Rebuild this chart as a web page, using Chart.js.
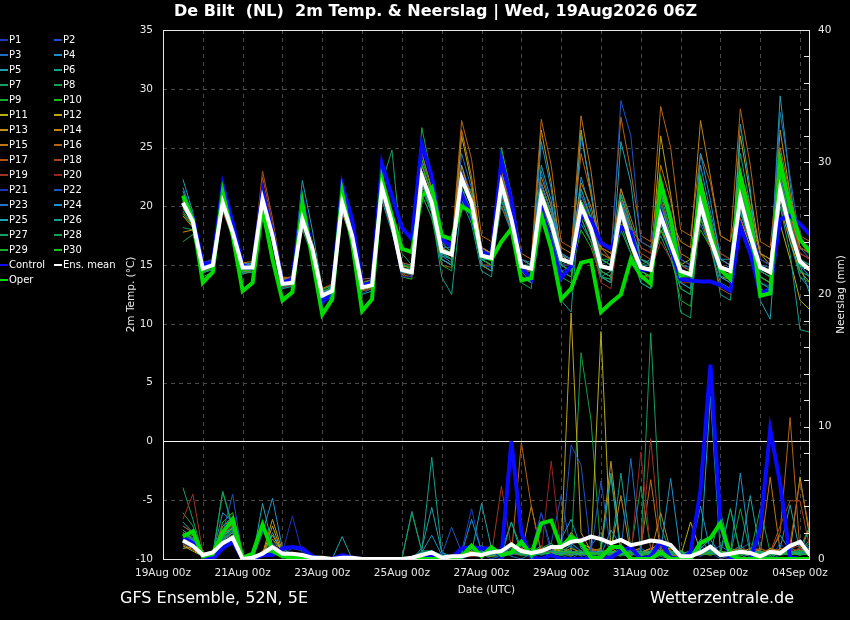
<!DOCTYPE html>
<html>
<head>
<meta charset="utf-8">
<script src="https://cdn.jsdelivr.net/npm/chart.js"></script>
<style>
html,body{margin:0;padding:0;background:#000;}
#wrap{position:relative;width:850px;height:620px;overflow:hidden;font-family:"DejaVu Sans",sans-serif;color:#fff;}
#c{position:absolute;left:0;top:0;}
#title{position:absolute;left:174px;top:1px;font-weight:bold;font-size:16px;white-space:pre;}
#legend{position:absolute;left:0;top:0;font-size:10px;}
.item{position:absolute;line-height:15px;white-space:nowrap;}
.sw{display:inline-block;width:8px;height:2px;vertical-align:middle;margin-right:1px;}
#src{position:absolute;left:120px;top:588px;font-size:16px;}
#site{position:absolute;left:650px;top:588px;font-size:16px;}
</style>
</head>
<body>
<div id="wrap">
<canvas id="c" width="850" height="620"></canvas>
<div id="title">De Bilt  (NL)  2m Temp. &amp; Neerslag | Wed, 19Aug2026 06Z</div>
<div id="legend"></div>
<div id="src">GFS Ensemble, 52N, 5E</div>
<div id="site">Wetterzentrale.de</div>
</div>
<script>
// hours after 19Aug 00z, 6-hourly steps of the 06z run
var hours = [12,18,24,30,36,42,48,54,60,66,72,78,84,90,96,102,108,114,120,126,132,138,144,150,156,162,168,174,180,186,192,198,204,210,216,222,228,234,240,246,252,258,264,270,276,282,288,294,300,306,312,318,324,330,336,342,348,354,360,366,372,378,384,390];
var tickLabels = ['19Aug 00z','21Aug 00z','23Aug 00z','25Aug 00z','27Aug 00z','29Aug 00z','31Aug 00z','02Sep 00z','04Sep 00z'];

var memberColors = ['#1f3cbe','#1f50c0','#1f6ec4','#1f8ec8','#1ea0ac','#14a08a','#12a064','#10a048','#14ac2c','#1cbc1c',
  '#b4b014','#bca414','#c09414','#c08414','#c07414','#b86414','#b05414','#a84420','#a03424','#982424',
  '#1f34be','#1f54c2','#1f72c6','#1f92ca','#1ea4ae','#14a08c','#12a066','#10a04a','#14ae2e','#1cbe1e'];

// 2m temperature (°C)
var tempMean = [20.3,18.7,14.7,15.0, 20.3,17.8,14.8,14.8, 20.6,17.5,13.4,13.5, 18.9,16.4,12.4,12.8, 20.3,17.5,13.1,13.3, 21.6,18.6,14.6,14.4, 22.6,20.3,16.2,15.9, 22.4,20.3,15.8,15.6, 21.9,18.9,14.9,14.7, 20.9,18.6,15.5,15.2, 20.0,18.1,14.9,14.7, 19.7,16.9,14.8,14.6, 19.2,16.8,14.5,14.2, 20.2,17.2,14.8,14.5, 20.7,17.5,14.8,14.4, 21.4,18.0,15.3,14.6];
var tempControl = [20.3,19.1,15.1,15.2, 21.8,18.6,15.0,14.7, 21.2,17.8,13.5,13.8, 20.5,16.1,11.8,12.7, 21.8,18.9,13.3,13.5, 23.6,20.9,18.2,17.2, 25.3,22.6,17.2,16.6, 21.0,19.2,16.1,15.8, 23.9,20.6,14.8,13.8, 19.8,16.9,13.9,14.9, 19.2,18.9,16.9,16.4, 18.2,17.8,14.6,14.6, 19.5,16.5,13.8,13.7, 13.6,13.6,13.3,12.8, 18.3,16.0,12.6,13.0, 18.9,19.2,18.5,17.6];
var tempOper = [20.9,18.9,13.5,14.4, 21.2,17.5,12.8,13.5, 19.8,15.5,12.0,12.7, 20.3,15.5,10.8,12.1, 21.2,16.9,11.1,12.1, 22.3,19.2,16.4,16.1, 20.9,21.6,17.5,17.2, 20.0,19.5,15.8,15.5, 17.0,18.1,13.7,13.9, 19.3,16.4,12.1,13.0, 15.2,15.4,11.0,11.8, 12.5,15.5,14.1,13.4, 22.0,18.9,14.1,14.4, 21.9,18.0,14.6,13.8, 22.6,18.9,12.4,12.6, 23.8,20.0,17.2,16.1];
var tempMembers = [
  [20.0,18.5,14.9,15.2, 20.8,18.0,14.6,14.5, 20.1,17.0,13.0,13.2, 18.5,16.0,12.0,12.6, 21.0,18.0,13.5,13.0, 22.5,19.5,15.0,14.0, 21.0,19.0,15.5,15.0, 23.5,21.0,16.5,15.8, 20.5,18.0,14.0,13.6, 19.5,17.5,14.5,14.8, 21.5,19.0,15.5,15.0, 18.0,16.0,14.0,13.5, 20.5,17.5,15.0,14.6, 22.0,18.5,15.5,15.0, 19.0,16.5,13.5,13.2, 23.0,19.0,16.0,15.5],
  [21.0,19.2,14.5,14.8, 20.0,17.5,15.0,15.2, 21.2,18.0,13.8,13.6, 19.5,16.8,12.8,13.0, 19.8,17.0,12.6,13.0, 21.0,18.0,14.2,14.6, 23.8,21.0,16.8,16.2, 21.5,19.5,15.0,14.8, 22.8,19.5,15.5,15.0, 21.8,19.5,16.0,15.5, 19.0,17.0,14.0,13.8, 21.0,18.0,15.5,15.0, 18.0,16.0,13.5,13.0, 19.5,17.0,14.0,14.2, 22.0,18.5,15.5,15.0, 20.0,17.5,15.0,14.0],
  [20.6,18.9,14.3,14.7, 19.8,17.4,14.2,14.6, 20.9,17.8,13.2,13.8, 19.0,16.2,12.2,12.4, 20.6,17.8,13.0,13.6, 20.8,18.2,14.0,14.8, 22.0,19.8,16.5,16.5, 24.5,21.5,16.0,15.5, 21.0,18.5,15.5,15.2, 23.0,20.0,15.0,14.5, 20.5,18.5,15.5,15.0, 19.0,16.5,14.5,14.0, 21.5,18.5,14.0,13.5, 18.5,16.5,14.5,15.0, 21.0,18.0,15.0,14.8, 24.5,20.0,16.5,15.5],
  [21.3,19.0,15.0,15.4, 20.5,18.2,15.2,15.0, 20.0,17.2,13.6,13.9, 18.2,15.8,12.6,13.2, 19.5,17.0,13.5,13.8, 22.0,19.0,15.2,14.5, 23.0,20.5,15.8,15.2, 22.0,20.0,16.2,16.0, 20.0,17.8,14.5,14.0, 21.5,19.0,15.8,15.5, 22.5,19.5,15.0,14.5, 20.5,17.5,15.5,15.2, 19.5,17.0,15.0,14.8, 23.5,19.5,16.0,15.5, 19.5,17.0,14.5,14.0, 20.5,17.0,14.0,13.0],
  [22.3,19.5,14.8,15.0, 20.0,17.6,14.5,14.7, 21.5,18.0,13.8,14.0, 22.2,18.0,13.0,13.2, 19.8,17.2,13.4,13.5, 20.5,17.8,14.5,14.2, 21.5,19.5,15.5,15.0, 23.0,20.5,15.5,15.5, 22.0,19.0,14.0,13.5, 19.5,17.5,15.0,15.5, 21.0,19.0,15.0,15.5, 21.5,18.5,14.5,14.0, 20.0,17.5,14.0,14.0, 21.0,18.0,15.5,15.5, 23.0,19.5,14.5,14.0, 29.4,22.0,15.0,12.5],
  [19.6,18.4,14.6,14.9, 19.9,17.6,14.9,15.0, 20.8,17.6,13.7,13.2, 18.8,16.6,12.3,12.6, 20.0,17.0,12.5,12.8, 21.2,18.5,15.0,15.0, 24.5,21.5,16.0,15.5, 21.0,19.0,15.5,15.5, 21.5,18.5,15.0,15.0, 20.0,18.0,14.5,14.0, 18.5,17.0,14.0,14.5, 20.0,17.5,15.0,15.0, 17.5,15.5,13.0,12.5, 19.0,16.5,13.5,13.0, 24.5,20.0,16.0,15.5, 22.5,19.0,16.5,16.0],
  [18.2,18.0,14.8,15.1, 20.6,18.2,14.4,14.4, 20.3,17.3,13.1,13.4, 19.2,16.6,12.5,12.9, 20.8,18.0,13.4,13.2, 22.0,24.8,16.0,15.0, 22.0,20.0,16.5,16.0, 21.0,21.5,16.5,16.0, 23.0,19.5,15.0,14.5, 20.5,18.5,16.0,15.5, 19.5,17.5,14.5,14.0, 18.5,17.0,15.0,15.5, 20.5,17.5,11.0,10.5, 21.5,18.0,14.5,14.0, 20.0,17.0,13.5,13.0, 21.5,18.5,15.5,15.0],
  [17.0,17.6,14.5,14.6, 21.0,18.5,15.0,14.6, 20.5,17.5,13.5,13.8, 18.0,15.8,12.0,12.2, 19.5,17.2,12.8,13.0, 21.0,19.0,14.5,14.6, 23.0,21.5,17.0,16.5, 22.0,20.5,15.0,15.0, 20.0,18.0,13.5,13.0, 21.0,19.5,16.0,15.5, 20.5,19.0,15.5,15.0, 18.5,16.0,13.5,13.0, 19.5,17.0,14.5,14.0, 21.0,18.5,16.0,15.5, 19.5,17.5,15.5,15.0, 20.0,17.5,14.0,13.5],
  [19.8,18.6,14.4,14.8, 20.2,17.5,14.4,14.6, 21.0,17.9,13.6,13.6, 19.8,17.0,12.9,13.3, 20.2,17.4,13.0,13.2, 21.3,18.4,14.8,14.4, 26.7,22.5,17.0,16.0, 22.5,20.5,15.5,15.0, 21.0,18.0,14.0,13.5, 19.0,17.0,14.0,13.5, 20.0,18.0,15.5,15.5, 20.5,17.0,15.0,14.5, 18.5,16.0,14.0,14.0, 20.5,17.0,14.0,13.5, 21.5,18.0,14.0,13.5, 22.0,18.5,15.0,14.5],
  [20.8,18.8,14.0,14.4, 20.4,17.9,14.7,14.9, 20.2,17.2,13.2,13.3, 19.0,16.4,12.2,12.6, 20.4,17.6,13.2,13.4, 22.5,19.0,14.0,13.8, 24.0,21.5,16.5,16.0, 20.5,19.0,15.5,15.0, 25.0,21.0,15.0,14.5, 20.0,18.0,15.0,14.5, 18.0,16.5,14.0,13.8, 19.0,16.5,14.0,14.2, 22.0,18.5,15.0,14.5, 18.0,16.5,14.5,14.0, 22.0,18.0,15.0,14.5, 20.5,17.5,15.5,15.0],
  [20.1,18.4,14.9,15.3, 19.7,17.4,15.1,15.0, 20.4,17.4,13.3,13.4, 18.6,16.2,12.5,13.0, 20.1,17.2,12.9,13.1, 21.0,18.0,14.4,14.2, 22.5,20.0,15.5,15.0, 26.0,22.0,16.5,16.0, 21.5,19.0,15.5,15.0, 22.0,19.5,15.0,14.5, 26.5,21.0,16.0,15.5, 20.0,17.5,14.0,13.5, 19.0,16.5,15.0,15.5, 22.5,19.0,14.5,14.0, 19.0,16.5,13.0,12.5, 18.5,15.5,12.0,11.2],
  [19.2,18.2,15.1,15.3, 20.0,17.8,14.6,14.8, 20.6,17.7,13.5,13.7, 18.4,16.0,12.1,12.5, 19.6,17.0,13.0,13.4, 21.4,18.8,14.8,14.6, 22.0,19.5,16.0,15.5, 23.5,20.5,15.0,14.5, 22.5,19.5,14.5,14.5, 20.5,18.5,15.5,15.0, 20.5,18.0,14.5,14.0, 21.0,18.0,15.5,15.0, 26.0,21.0,15.5,15.0, 20.0,17.5,14.5,14.2, 26.0,21.0,16.0,15.0, 20.0,17.0,14.5,13.5],
  [17.8,18.0,14.6,15.0, 20.3,17.7,14.5,14.5, 20.7,17.6,13.4,13.4, 19.3,16.7,12.7,13.0, 20.3,17.6,13.2,13.6, 21.8,18.8,14.6,14.5, 23.0,20.5,15.5,15.0, 22.5,20.0,16.0,15.5, 22.0,19.0,15.5,15.0, 26.5,22.0,16.0,15.0, 19.5,18.0,14.5,14.0, 19.0,16.5,14.0,14.0, 18.0,16.5,14.5,14.0, 20.5,17.5,14.0,13.8, 21.5,18.5,15.0,14.5, 26.5,21.0,16.5,16.0],
  [20.5,18.8,14.8,15.1, 20.6,18.1,15.2,15.3, 21.0,17.9,13.9,14.0, 19.4,16.9,12.7,13.0, 20.7,17.8,13.3,13.4, 21.9,18.9,14.9,14.8, 22.5,20.5,16.5,16.0, 23.0,21.0,16.5,16.0, 23.5,20.5,14.5,13.5, 21.0,19.0,16.0,15.5, 22.0,20.0,16.5,16.0, 20.5,18.0,17.0,16.5, 21.0,19.0,17.0,16.5, 27.3,22.5,17.5,17.0, 21.5,19.0,16.0,15.5, 22.0,19.5,16.5,16.0],
  [20.9,19.1,14.4,14.6, 20.7,18.0,14.8,14.7, 21.7,18.4,13.7,13.8, 19.0,16.4,12.3,12.7, 19.9,17.3,13.0,13.2, 21.5,18.5,14.5,14.2, 23.5,21.0,16.5,16.0, 26.5,22.5,16.5,16.0, 23.0,20.0,15.5,15.0, 22.5,20.0,16.5,16.0, 27.7,23.0,16.5,15.5, 21.5,19.0,16.5,16.0, 23.5,20.5,16.0,15.5, 21.5,19.0,15.5,15.0, 23.0,20.0,16.0,15.5, 23.0,19.5,16.0,15.5],
  [20.2,18.7,15.0,15.4, 20.8,18.3,15.1,15.0, 21.4,18.2,13.8,13.9, 19.6,17.0,13.0,13.4, 20.9,18.1,13.8,13.9, 22.4,19.4,15.2,15.0, 24.5,21.5,17.0,16.5, 27.3,24.0,17.5,17.0, 24.0,21.0,16.0,15.5, 27.4,23.5,17.0,16.5, 24.5,21.0,16.5,16.0, 27.6,23.0,17.5,17.0, 28.5,25.0,18.0,17.5, 24.5,22.0,17.5,17.0, 28.3,23.5,17.0,16.5, 25.0,21.0,17.5,17.0],
  [19.9,18.6,14.9,15.1, 21.0,18.4,15.0,15.0, 23.0,19.0,14.0,13.9, 19.1,16.6,12.4,12.6, 20.2,17.4,13.1,13.5, 21.2,18.3,14.2,14.0, 22.0,19.5,15.0,14.8, 21.5,19.5,15.0,14.5, 21.0,18.5,14.0,13.5, 20.5,18.0,15.0,15.0, 21.0,19.0,16.0,15.5, 19.5,17.0,15.0,14.5, 20.0,17.5,14.0,13.5, 19.0,16.5,13.0,12.5, 20.5,17.5,14.0,13.5, 23.5,20.0,17.0,16.5],
  [20.7,19.0,14.7,15.0, 19.6,17.3,14.3,14.4, 22.5,18.5,13.3,13.6, 18.7,16.1,12.6,12.9, 20.5,17.6,13.6,13.7, 21.6,18.7,14.4,14.3, 21.5,19.5,16.0,15.5, 22.0,20.0,16.0,16.0, 20.0,18.0,14.5,14.5, 21.5,19.0,15.5,15.0, 19.5,17.5,14.5,14.0, 20.0,18.0,16.0,15.5, 20.5,18.0,15.0,14.5, 21.0,18.5,16.0,15.5, 19.0,17.0,15.5,15.0, 21.0,18.5,16.5,16.0],
  [20.4,18.8,14.5,14.9, 20.1,17.7,14.6,14.6, 20.5,17.5,13.1,13.3, 18.9,16.3,12.2,12.4, 19.8,17.1,12.8,13.0, 21.0,18.1,14.3,14.2, 22.5,20.5,16.5,16.0, 21.5,19.5,15.0,15.0, 22.5,19.5,15.5,15.0, 20.0,18.5,16.0,15.5, 19.0,17.0,13.5,13.0, 19.0,17.0,15.0,14.5, 17.0,15.5,13.5,13.5, 20.0,17.0,14.5,14.0, 20.5,17.5,14.5,14.0, 22.0,19.0,16.0,15.5],
  [19.5,18.3,14.8,15.0, 20.5,18.0,15.0,14.8, 20.2,17.2,13.4,13.6, 18.3,15.9,12.5,12.8, 20.6,17.7,13.3,13.4, 21.4,18.4,14.7,14.5, 23.0,20.5,16.0,15.5, 22.0,20.0,16.0,15.5, 21.0,18.0,14.5,14.0, 20.5,18.5,15.0,14.5, 20.0,17.5,14.0,13.5, 20.5,18.5,16.5,16.0, 19.5,17.0,14.0,13.5, 20.5,18.0,16.0,15.5, 21.0,18.5,15.0,14.5, 20.5,18.0,16.0,15.5],
  [20.0,18.7,14.6,14.9, 20.0,17.6,14.7,14.9, 20.4,17.4,13.3,13.5, 18.6,16.2,12.1,12.4, 22.3,19.0,13.5,13.4, 21.0,18.2,14.0,14.0, 22.0,20.0,15.5,15.0, 23.0,20.5,16.0,15.5, 21.5,19.0,15.0,14.5, 19.5,17.5,15.0,15.0, 21.0,18.5,15.0,14.5, 20.0,17.5,14.5,14.0, 22.5,19.5,15.5,15.0, 19.5,17.0,14.0,13.5, 21.0,18.5,15.5,15.0, 20.0,17.5,15.5,15.0],
  [20.6,18.9,15.2,15.5, 20.0,17.6,14.9,15.1, 20.8,17.7,13.6,13.7, 19.1,16.5,12.7,13.0, 20.0,17.3,13.0,13.2, 21.7,18.7,14.6,14.4, 23.0,20.5,16.0,15.5, 22.5,20.0,15.5,15.0, 21.5,19.0,15.5,15.0, 21.0,19.0,16.0,15.5, 20.5,18.5,15.5,15.0, 29.0,26.0,17.0,16.5, 22.0,19.5,15.5,15.0, 20.5,18.0,15.0,14.5, 20.0,17.5,15.0,14.5, 22.5,19.5,17.0,16.5],
  [20.3,18.6,14.4,14.6, 20.4,17.9,14.6,14.6, 20.2,17.3,13.2,13.4, 18.8,16.3,12.3,12.6, 20.6,17.8,13.3,13.6, 21.7,18.8,14.7,14.5, 22.5,20.0,16.0,15.5, 22.0,20.0,15.5,15.5, 21.0,18.5,14.5,14.0, 22.0,19.5,16.0,15.5, 20.0,18.0,15.0,14.5, 20.5,18.0,15.0,14.5, 19.5,17.0,14.5,14.0, 21.5,18.5,15.0,14.5, 20.5,17.5,14.5,14.0, 28.0,22.5,17.0,16.5],
  [21.6,19.2,15.0,15.2, 20.6,18.1,15.0,15.2, 20.8,17.6,13.3,13.4, 18.5,16.1,12.4,12.8, 20.2,17.4,13.1,13.3, 21.5,18.5,14.5,14.3, 22.0,19.8,15.8,15.5, 21.5,19.5,15.5,15.0, 20.5,18.0,14.5,14.0, 25.5,21.5,15.5,15.0, 26.0,21.5,15.5,15.0, 19.0,17.0,14.5,14.0, 20.0,17.5,14.5,14.0, 24.5,20.5,15.5,15.0, 20.0,17.0,14.0,13.5, 21.0,18.0,15.0,14.0],
  [20.7,18.9,14.9,15.2, 20.5,18.0,14.7,14.8, 20.6,17.6,13.5,13.6, 19.1,16.6,12.6,13.0, 20.0,17.3,13.2,13.4, 21.7,18.7,14.6,14.5, 22.0,19.5,15.5,15.0, 21.0,19.0,15.0,14.5, 22.0,19.0,14.5,14.0, 23.5,20.5,15.0,14.5, 20.5,18.0,14.0,13.5, 25.5,22.0,15.0,14.5, 19.0,16.5,13.5,13.0, 21.0,18.0,14.0,13.5, 27.0,21.5,12.0,10.4, 21.5,18.0,14.5,14.0],
  [20.0,18.5,14.7,15.0, 19.8,17.4,14.3,14.4, 20.0,17.0,13.0,13.2, 18.4,16.0,12.0,12.3, 20.4,17.5,13.1,13.3, 21.4,18.4,14.4,14.2, 22.0,19.5,14.0,12.5, 20.5,18.5,14.5,14.0, 21.0,18.5,14.0,13.5, 19.5,17.0,12.0,11.0, 21.5,19.0,14.0,13.5, 20.5,17.5,13.5,13.0, 21.0,18.0,14.5,14.0, 20.0,17.0,12.5,12.0, 19.5,17.0,13.5,13.0, 20.0,16.0,9.5,9.3],
  [20.5,18.8,14.6,14.9, 20.1,17.8,14.8,14.8, 20.5,17.5,13.5,13.4, 18.7,16.3,12.4,12.7, 20.1,17.4,13.1,13.3, 21.5,18.5,14.5,14.3, 22.5,20.0,16.0,15.5, 21.5,19.5,15.5,15.0, 24.5,21.0,15.5,15.0, 20.5,18.5,15.5,15.0, 19.0,17.0,14.5,14.0, 21.0,18.5,15.5,15.0, 18.5,16.5,14.0,13.5, 19.5,17.0,14.5,14.0, 20.0,17.5,14.5,14.0, 22.5,19.0,15.5,15.0],
  [20.2,18.6,14.8,15.1, 20.3,17.9,14.9,15.0, 20.7,17.6,13.6,13.8, 18.9,16.4,12.6,12.9, 20.3,17.5,13.4,13.6, 21.8,18.8,14.8,14.6, 21.5,19.5,16.0,15.5, 22.5,20.5,16.0,15.5, 20.5,18.5,14.5,14.0, 20.0,18.0,15.0,14.5, 19.5,17.5,14.5,14.0, 18.0,16.0,14.0,13.5, 19.0,16.5,13.0,12.5, 22.0,19.0,15.0,14.5, 21.5,18.5,14.5,14.0, 21.0,18.0,14.5,14.0],
  [19.4,18.3,14.5,14.7, 19.9,17.6,14.5,14.6, 20.3,17.4,13.3,13.5, 18.5,16.1,12.2,12.5, 20.4,17.6,13.2,13.4, 21.6,18.6,14.6,14.4, 21.0,19.0,15.0,14.5, 22.0,20.0,15.5,15.0, 21.5,19.0,15.0,14.5, 19.0,17.5,14.5,14.0, 20.5,18.5,15.5,15.0, 19.5,17.0,14.5,14.0, 18.0,16.0,12.0,11.5, 19.0,17.0,14.5,14.0, 21.0,18.0,15.0,14.5, 22.0,19.0,15.0,14.5],
  [20.4,18.7,14.4,14.7, 20.6,18.2,15.0,15.0, 20.9,17.8,13.7,13.8, 19.2,16.7,12.8,13.1, 20.7,17.9,13.5,13.7, 22.0,19.0,15.0,14.8, 23.5,21.0,16.5,16.0, 22.0,20.0,16.0,15.5, 22.0,19.5,15.0,14.5, 21.5,19.0,15.5,15.0, 20.5,18.5,15.0,14.5, 19.5,17.0,14.5,14.0, 20.0,17.5,14.5,14.0, 20.5,17.5,14.5,14.0, 20.5,17.5,14.0,13.5, 21.0,18.0,15.0,14.5]
];

// precipitation per 6h (mm), right axis
var rainMean = [1.4,1.0,0.3,0.5,1.2,1.6,0,0.1, 0.4,0.9,0.4,0.4,0.3,0.1,0.1,0, 0.1,0.1,0,0,0,0,0,0.1, 0.3,0.5,0.1,0.2,0.2,0.4,0.3,0.5, 0.6,1.1,0.6,0.45,0.6,0.9,0.9,1.3, 1.4,1.7,1.5,1.2,1.45,1.05,1.2,1.4, 1.3,1.06,0.2,0.2,0.5,0.93,0.3,0.4, 0.55,0.45,0.2,0.55,0.45,1.0,1.3,0.3];
var rainControl = [1.6,1.2,0.2,0,0.8,1.3,0,0, 0.3,0.3,0.8,0.9,0.8,0.2,0,0, 0.3,0.1,0,0,0,0,0,0, 0,0.2,0,0.1,0.8,0.9,0.8,0.8, 0.2,8.9,2.0,0.1,0,0.3,0,0, 0,0,0,0.1,0.6,0.9,0,0.2, 1.3,0.1,0,0.5,5.2,14.7,2.7,0.1, 0,0,2.2,9.8,5.7,0.1,0,0];
var rainOper = [1.7,2.1,0.2,0.4,2.0,3.0,0.1,0.4, 2.6,0.6,0.2,0.1,0.1,0.1,0,0, 0,0,0,0,0,0,0,0, 0,0,0,0,0.2,1.0,0.2,0.9, 0.3,0.5,1.3,0.3,2.7,2.9,0.9,1.7, 1.2,0.1,0.1,0.9,0.9,0,0,0, 0.5,0,0,0,1.2,1.6,2.7,0.3, 0,0,0,0,0,0,0,0];
var rainMembers = [
  [1.2,0.8,0.2,0.3,1.5,2.0,0,0, 0.3,0.8,0.5,0.2,0,0,0,0, 0,0,0,0,0,0,0,0, 0.2,0.5,0,0,0.6,3.8,0.5,0.2, 0,0.6,1.5,0.3,0,0.5,0.8,1.2, 0.4,0,0.3,1.0,0.5,0,0,0.6, 1.5,0.3,0,0,0.8,1.5,0.2,0, 0,0.5,0,0,1.2,0.3,0.8,0.5],
  [2.0,1.5,0.3,0.5,1.8,2.5,0.1,0, 0.2,0.5,0.3,0.8,0.6,0,0,0, 0,0,0,0,0,0,0,0, 0,0.3,0,0,0.2,0.5,0.4,0, 0.3,0.5,0.8,0.2,0.5,1.2,4.8,0.6, 0.2,0.4,0,0.3,0.8,0.5,0,0.3, 0.6,0,0.2,0.4,1.0,0.5,0,0.3, 0.8,1.2,0.5,0,0.3,0.6,1.5,0.8],
  [0.8,1.0,0.1,0.2,2.5,3.2,0,0, 0.5,1.2,0.4,0.3,0.2,0.1,0,0, 0,0,0,0,0,0,0,0, 0,0.2,0.1,0,0,0.3,0.2,0.5, 0.6,0.2,0,0.4,3.5,0.8,0.3,0, 0.5,1.0,2.0,0.6,0.3,0.2,0.8,0.4, 0,0.3,0,0.5,0.2,0.6,1.0,0.5, 0.3,0,0.2,0,0.6,0.9,0.4,1.0],
  [1.5,1.2,0.2,0.1,1.0,1.8,0,0, 0.3,2.0,0.5,0.2,0,0,0,0, 0,0,0,0,0,0,0,0, 0.5,1.8,0.3,0,0.2,0.8,1.0,0.6, 0.2,1.0,0.5,0.3,0.6,0.2,1.5,3.0, 0.8,0.4,0.3,2.2,1.0,0.5,0.2,0.8, 0.5,1.2,0.2,0,0.8,1.5,0.3,0.5, 1.0,0.4,0,0.5,1.8,0.6,0.3,0.5],
  [2.5,2.0,0.3,0.4,1.5,2.2,0.1,0, 0.5,1.5,0.6,0.3,0.2,0,0,0, 0,0,0,0,0,0,0,0, 0.8,3.9,0.5,0.2,0.3,0.5,4.2,0.8, 0.4,0.6,0.3,0.5,1.0,0.4,0.3,1.2, 0.6,0.2,0.8,6.2,0.5,0.3,0.5,0.8, 0.3,0.5,0,0.2,1.5,0.5,0.3,0.6, 0.4,0.2,0.5,0.3,0.8,4.1,0.5,0.3],
  [1.8,1.0,0.2,0.3,2.0,2.8,0,0, 0.2,0.4,0.8,0.3,0.1,0,0,0, 0,0,0,0,0,0,0,0, 0.6,7.7,0.5,0,0.2,0.3,0.5,0.4, 0.2,2.8,0.8,0.2,0.5,0.3,0.6,1.0, 0.3,0.6,0.4,0.5,6.5,0.8,0.3,0.5, 0.2,0.4,0.6,0.3,0.5,1.0,0.2,0.4, 0.8,0.3,0,0.4,0.6,0.3,0.5,1.5],
  [5.4,3.0,0.4,0.6,1.2,1.5,0.1,0, 0.4,0.6,0.3,0.1,0,0,0,0, 0,0,0,0,0,0,0,0, 0.5,0.3,0,0,0.2,0.4,0.6,0.3, 0.5,0.8,0.3,0.2,0.4,0.6,0.8,0.5, 0.6,0.3,0.5,0.2,0.4,0.6,0.8,17.1, 2.5,0.4,0.2,0.5,0.3,0.6,0.4,3.8, 0.5,0.3,0.2,0.6,0.4,0.3,0.5,0.4],
  [3.5,2.5,0.5,0.2,1.8,2.2,0,0, 0.3,0.5,0.2,0.2,0,0,0,0, 0,0,0,0,0,0,0,0, 0.4,0.6,0.2,0,0.3,0.2,0.5,0.3, 0.2,0.4,0.3,0.6,0.5,1.0,0.8,0.6, 15.6,10.5,0.5,0.3,0.4,0.6,5.5,0.8, 0.3,0.2,0.4,0.3,0.5,0.4,0.6,0.3, 3.8,0.5,0.3,0.2,0.4,0.6,0.5,0.3],
  [2.0,1.5,0.2,0.4,5.1,2.5,0,0, 0.2,0.8,0.4,0.1,0,0,0,0, 0,0,0,0,0,0,0,0, 0.3,0.5,0.2,0.1,0.4,0.6,0.3,0.2, 0.5,0.4,0.6,0.8,0.3,0.5,0.4,0.2, 0.6,0.4,0.3,0.5,0.2,0.8,0.4,0.6, 0.3,0.5,0.2,0.4,0.6,0.3,0.5,0.4, 0.2,0.6,0.3,0.5,0.4,0.8,0.6,1.2],
  [1.5,1.8,0.3,0.2,2.8,3.5,0.1,0, 0.6,1.0,0.3,0.2,0.1,0,0,0, 0,0,0,0,0,0,0,0, 0.2,0.4,0.1,0,0.2,0.5,0.4,0.3, 0.4,0.3,0.5,0.6,0.8,1.2,0.5,0.3, 0.4,0.6,0.5,0.3,0.6,0.4,0.2,0.5, 0.8,0.3,0.2,0.5,0.4,0.6,0.3,0.8, 0.5,0.3,0.6,0.4,0.3,0.5,0.8,0.6],
  [1.0,0.6,0.2,0.2,1.2,1.5,0,0, 0.4,1.8,0.5,0.3,0.1,0,0,0, 0,0,0,0,0,0,0,0, 0,0.2,0.3,0,0.4,0.6,0.3,0.2, 0.5,0.6,0.4,0.3,0.5,0.8,0.6,2.0, 1.2,0.8,17.2,0.5,0.6,0.3,0.5,0.8, 1.0,0.4,0.2,2.8,0.6,0.5,0.3,0.5, 0.4,0.6,0.3,0.8,0.5,0.6,6.2,1.5],
  [1.6,1.2,0.2,0.3,2.2,2.6,0,0, 0.3,2.5,0.4,0.2,0,0,0,0, 0,0,0,0,0,0,0,0, 0.2,0.3,0,0,0.3,0.5,0.6,0.4, 0.3,0.5,0.8,0.4,0.6,0.5,0.8,18.6, 2.0,0.6,0.5,0.8,0.4,0.6,0.3,0.5, 0.6,0.8,0.3,0.5,0.4,0.6,0.5,0.3, 0.5,0.8,0.6,0.4,0.5,0.3,0.6,0.8],
  [0.8,0.9,0.2,0.3,1.5,2.0,0,0, 0.4,3.0,0.6,0.2,0.1,0,0,0, 0,0,0,0,0,0,0,0, 0.3,0.2,0,0,0.2,0.4,0.3,0.5, 0.6,0.4,0.5,0.3,0.6,0.4,0.5,0.8, 0.5,0.6,0.8,7.4,0.6,0.5,0.4,0.8, 0.6,0.3,0.5,0.4,0.6,0.5,0.3,0.6, 0.4,0.5,0.3,0.8,0.6,0.4,0.5,0.6],
  [1.4,1.1,0.3,0.2,1.6,2.4,0,0, 0.2,0.6,0.3,0.3,0,0,0,0, 0,0,0,0,0,0,0,0, 0.2,0.4,0.2,0,0.3,0.5,0.4,0.3, 0.4,0.5,0.3,4.0,0.5,0.6,0.4,0.3, 0.5,0.8,0.4,0.6,4.8,0.3,0.5,0.4, 3.5,0.6,0.4,0.3,0.5,0.4,0.6,0.3, 0.4,0.6,0.5,0.3,0.8,0.6,0.4,0.5],
  [1.1,0.7,0.2,0.1,2.0,2.2,0.1,0, 0.5,1.0,0.2,0.4,0,0,0,0, 0,0,0,0,0,0,0,0, 0,0.2,0,0.1,0.3,0.4,0.2,0.5, 0.4,0.6,0.5,0.4,0.8,0.5,0.4,0.6, 0.3,0.8,0.6,0.4,0.5,0.6,0.8,6.0, 0.5,0.4,0.3,0.6,0.5,0.4,0.3,0.6, 0.8,0.5,0.4,6.2,0.6,0.5,0.8,2.5],
  [1.3,1.0,0.2,0.4,2.5,3.0,0,0, 0.6,1.5,0.3,0.2,0.1,0,0,0, 0,0,0,0,0,0,0,0, 0.3,0.2,0,0,0.2,0.3,0.5,0.4, 0.5,0.3,8.8,4.0,0.5,0.6,0.4,0.5, 0.6,0.4,0.5,0.3,0.6,0.8,0.5,0.4, 0.6,0.5,0.3,0.4,0.6,0.5,0.3,0.4, 0.5,0.6,0.8,0.4,2.0,10.7,0.6,0.4],
  [1.8,1.4,0.3,0.2,1.8,2.6,0.1,0, 0.4,0.8,0.5,0.3,0,0,0,0, 0,0,0,0,0,0,0,0, 0.2,0.3,0.1,0,0.4,0.3,0.5,0.2, 0.3,0.5,0.4,0.6,0.5,0.3,0.6,0.4, 0.5,0.8,0.4,0.6,0.5,0.3,0.4,0.6, 0.5,0.3,0.2,0.5,0.4,0.6,0.5,0.3, 0.6,0.4,0.8,0.5,0.6,1.2,5.9,2.0],
  [2.5,2.0,0.3,0.2,1.5,1.8,0,0, 0.3,0.6,0.4,0.2,0,0,0,0, 0,0,0,0,0,0,0,0, 0.1,0.2,0,0,0.3,0.2,0.4,0.3, 0.5,0.4,0.3,0.5,0.6,0.4,0.5,0.3, 0.6,0.4,0.5,0.3,0.4,0.6,0.5,0.3, 0.4,0.6,0.3,0.5,0.4,0.3,0.6,0.5, 0.4,0.3,0.6,0.5,2.5,4.4,4.4,0.8],
  [3.0,4.9,0.5,0.3,1.2,1.5,0.1,0, 0.2,0.5,0.3,0.2,0,0,0,0, 0,0,0,0,0,0,0,0, 0.2,0.3,0,0,0.2,0.4,0.5,0.3, 5.5,0.8,0.4,0.3,0.5,0.6,0.4,0.5, 0.3,0.6,0.5,0.4,0.6,0.8,0.5,9.1, 0.8,0.4,0.3,0.5,0.6,0.4,0.3,0.5, 0.6,0.4,0.5,0.3,0.6,0.8,1.0,0.5],
  [2.2,1.6,0.2,0.3,1.4,2.0,0,0, 0.3,0.6,0.4,0.2,0.1,0,0,0, 0,0,0,0,0,0,0,0, 0.1,0.2,0,0,0.3,0.2,0.3,0.4, 0.5,0.6,0.3,0.5,0.4,7.4,0.6,0.4, 0.3,0.5,0.4,0.6,0.5,0.3,8.1,0.6, 0.5,0.4,0.3,0.6,0.5,0.4,0.6,0.3, 0.5,0.4,0.6,0.5,0.4,0.6,0.8,0.5],
  [1.5,1.2,0.2,0.3,1.6,2.2,0,0, 0.3,0.6,0.5,3.25,0.4,0,0,0, 0,0,0,0,0,0,0,0, 0.2,0.3,0.1,0,0.2,0.4,0.3,0.5, 0.4,0.3,0.5,0.6,3.5,0.4,0.5,0.3, 0.6,0.5,0.4,0.3,0.5,0.6,0.4,0.3, 0.6,0.5,0.3,0.4,0.5,0.6,0.3,0.4, 0.5,0.6,0.3,0.4,0.5,0.6,0.4,0.5],
  [1.2,1.6,0.3,0.2,2.0,4.9,0.1,0, 0.2,0.5,0.4,0.3,0,0,0,0, 0,0,0,0,0,0,0,0, 0.3,0.4,0.3,2.4,0.5,0.3,0.4,0.3, 0.5,0.6,0.4,0.5,0.3,0.6,0.4,8.6, 7.1,0.5,5.9,0.6,0.4,0.5,0.3,0.6, 0.4,0.5,0.3,0.6,0.5,0.4,0.3,0.5, 0.6,0.4,0.5,0.3,0.6,0.4,0.5,0.6],
  [1.9,1.3,0.2,0.3,1.5,2.0,0,0, 0.4,0.8,0.3,0.2,0,0,0,0, 0,0,0,0,0,0,0,0, 0.2,0.3,0,0,0.3,0.5,0.6,0.4, 0.3,0.5,0.6,0.4,0.5,0.3,0.6,0.5, 0.4,0.6,0.5,0.3,0.6,7.6,0.5,0.4, 0.6,0.3,0.5,0.4,0.6,0.5,0.3,0.6, 0.4,0.5,0.6,0.3,0.5,0.6,0.4,0.8],
  [2.2,1.5,0.3,0.4,3.5,2.8,0.1,0, 2.0,4.6,0.8,0.3,0.2,0,0,0, 0,0,0,0,0,0,0,3.6, 0.6,0.6,0.3,0.2,0.4,3.0,0.6,0.5, 0.4,0.6,0.5,0.3,0.6,0.4,0.5,0.6, 0.3,0.5,0.4,0.6,0.5,0.4,0.3,0.6, 0.6,6.1,0.3,0.5,4.0,0.6,0.5,0.4, 6.5,0.6,0.4,0.5,0.6,0.4,0.5,0.6],
  [2.8,2.0,0.3,0.2,1.8,2.4,0,0, 4.2,1.0,0.4,0.3,0.1,0,0,0, 1.7,0,0,0,0,0,0,0, 0.3,0.2,0,0,0.2,0.4,0.5,0.3, 0.4,0.5,0.3,0.6,0.5,0.4,0.6,0.3, 0.5,0.4,0.6,0.5,0.3,0.6,0.4,0.5, 0.3,0.6,0.4,0.5,0.6,12.3,0.4,0.6, 0.5,4.8,0.5,0.4,0.6,0.5,0.3,0.5],
  [1.6,1.2,0.2,0.3,1.4,2.0,0,0, 0.3,0.8,0.5,0.2,0,0,0,0, 0,0,0,0,0,0,0,0, 0.4,0.6,0.3,0,0.2,0.3,0.4,0.5, 0.6,2.8,0.4,0.5,0.3,0.6,0.4,0.5, 0.6,0.3,0.5,6.5,0.4,0.5,0.6,0.3, 0.5,0.4,0.6,0.3,0.5,0.4,3.6,0.5, 0.4,0.6,0.5,0.3,0.6,0.5,0.4,2.5],
  [2.0,1.4,0.3,0.2,5.1,2.2,0.1,0, 0.3,0.6,0.4,0.2,0,0,0,0, 0,0,0,0,0,0,0,0, 0.2,0.3,0.1,0,0.3,0.4,0.5,0.3, 0.6,0.4,0.5,0.3,0.4,0.6,0.5,0.4, 0.3,0.5,0.4,0.6,0.5,0.3,0.6,0.4, 0.5,0.3,0.4,0.6,0.5,0.4,0.6,3.8, 0.5,0.3,0.4,0.6,0.5,0.4,0.6,0.5],
  [1.7,1.1,0.2,0.3,1.6,2.1,0,0, 0.4,0.5,0.3,0.2,0,0,0,0, 0,0,0,0,0,0,0,3.5, 0.6,0.6,0.2,0,0.3,0.4,0.3,0.5, 0.4,0.6,0.3,0.5,0.6,0.4,0.3,0.5, 0.6,0.4,0.5,0.3,0.6,0.4,0.5,0.3, 0.5,0.6,0.4,0.3,0.5,0.6,0.4,0.5, 0.5,0.4,3.8,0.5,0.3,0.4,0.6,0.5],
  [1.3,1.0,0.2,0.2,1.2,1.8,0,0, 0.2,0.4,0.3,0.1,0,0,0,0, 0,0,0,0,0,0,0,0, 0.2,0.3,0,0,0.2,0.3,0.4,0.2, 0.3,0.5,0.4,0.3,0.5,0.4,0.3,0.5, 0.4,0.3,0.5,0.4,0.3,0.5,0.4,0.3, 0.5,0.4,0.3,0.5,0.4,0.3,0.5,0.4, 0.3,0.5,0.4,0.3,0.5,0.4,0.3,0.5],
  [1.5,1.3,0.3,0.2,1.7,2.3,0,0, 0.3,0.7,0.4,0.2,0,0,0,0, 0,0,0,0,0,0,0,0, 0.3,0.2,0.1,0,0.3,0.4,0.3,0.4, 0.5,0.4,0.6,0.3,0.5,0.4,0.6,0.5, 0.4,0.5,0.3,0.6,0.4,0.5,0.3,0.6, 0.4,0.5,0.6,0.3,0.4,0.5,0.6,0.4, 0.5,0.3,0.6,0.4,0.5,0.6,0.4,0.3]
];

var controlColor = '#0a0aff';
var operColor = '#00dc00';
var meanColor = '#ffffff';
var textColor = '#e8e8e8';

// lower "order" is painted on top in Chart.js
function line(label, values, axis, color, width, order) {
  return {
    label: label,
    data: hours.map(function (h, i) { return {x: h, y: values[i]}; }),
    yAxisID: axis,
    borderColor: color,
    borderWidth: width,
    pointRadius: 0,
    tension: 0,
    fill: false,
    order: order
  };
}

var datasets = [];
tempMembers.forEach(function (m, i) { datasets.push(line('P' + (i + 1), m, 'y', memberColors[i], 1, 100 - i)); });
rainMembers.forEach(function (m, i) { datasets.push(line('P' + (i + 1), m, 'y2', memberColors[i], 1, 100 - i)); });
datasets.push(line('Control', tempControl, 'y', controlColor, 4, 3));
datasets.push(line('Control', rainControl, 'y2', controlColor, 4, 3));
datasets.push(line('Oper', tempOper, 'y', operColor, 4, 2));
datasets.push(line('Oper', rainOper, 'y2', operColor, 4, 2));
datasets.push(line('Ens. mean', tempMean, 'y', meanColor, 4, 1));
datasets.push(line('Ens. mean', rainMean, 'y2', meanColor, 4, 1));

// legend, two columns like the original
var legendItems = tempMembers.map(function (m, i) { return ['P' + (i + 1), memberColors[i]]; });
legendItems.push(['Control', controlColor], ['Ens. mean', meanColor], ['Oper', operColor]);
var legend = document.getElementById('legend');
legendItems.forEach(function (it, k) {
  var d = document.createElement('div');
  d.className = 'item';
  d.style.left = (k % 2) * 54 + 'px';
  d.style.top = 32 + Math.floor(k / 2) * 15 + 'px';
  d.innerHTML = '<span class="sw" style="background:' + it[1] + '"></span>' + it[0];
  legend.appendChild(d);
});

// grid, frame, inner ticks and right axis title
var decor = {
  id: 'decor',
  beforeDatasetsDraw: function (chart) {
    var ctx = chart.ctx, a = chart.chartArea, x = chart.scales.x, y = chart.scales.y;
    ctx.save();
    ctx.lineWidth = 1;
    ctx.strokeStyle = '#484848';
    ctx.setLineDash([4, 4]);
    ctx.beginPath();
    for (var h = 24; h < 390; h += 24) {
      var px = Math.round(x.getPixelForValue(h)) + 0.5;
      ctx.moveTo(px, a.top); ctx.lineTo(px, a.bottom);
    }
    y.ticks.forEach(function (t) {
      if (t.value === 0 || t.value === -10 || t.value === 35) return;
      var py = Math.round(y.getPixelForValue(t.value)) + 0.5;
      ctx.moveTo(a.left, py); ctx.lineTo(a.right, py);
    });
    ctx.stroke();
    ctx.setLineDash([]);
    ctx.strokeStyle = '#f4f4f4';
    var z = Math.round(y.getPixelForValue(0)) + 0.5;
    ctx.beginPath(); ctx.moveTo(a.left, z); ctx.lineTo(a.right, z); ctx.stroke();
    ctx.restore();
  },
  afterDraw: function (chart) {
    var ctx = chart.ctx, a = chart.chartArea, y2 = chart.scales.y2;
    ctx.save();
    ctx.strokeStyle = '#e6e6e6';
    ctx.lineWidth = 1;
    ctx.strokeRect(Math.round(a.left) + 0.5, Math.round(a.top) + 0.5, Math.round(a.right - a.left) - 1, Math.round(a.bottom - a.top));
    ctx.beginPath();
    for (var v = 2; v < 40; v += 2) {
      var py = Math.round(y2.getPixelForValue(v)) + 0.5;
      ctx.moveTo(a.right - 6, py); ctx.lineTo(a.right, py);
    }
    ctx.stroke();
    ctx.fillStyle = textColor;
    ctx.font = '10.5px "DejaVu Sans"';
    ctx.textAlign = 'center';
    ctx.textBaseline = 'middle';
    ctx.translate(841, (a.top + a.bottom) / 2);
    ctx.rotate(-Math.PI / 2);
    ctx.fillText('Neerslag (mm)', 0, 0);
    ctx.restore();
  }
};

Chart.defaults.font.family = '"DejaVu Sans", sans-serif';
Chart.defaults.color = textColor;

new Chart(document.getElementById('c'), {
  type: 'line',
  data: { datasets: datasets },
  options: {
    responsive: false,
    animation: false,
    events: [],
    layout: { padding: { left: 120, right: 0, top: 30, bottom: 23 } },
    plugins: { legend: { display: false }, tooltip: { enabled: false } },
    scales: {
      x: {
        type: 'linear', min: 0, max: 390,
        grid: { display: false }, border: { display: false },
        ticks: {
          stepSize: 48, includeBounds: false, autoSkip: false, maxRotation: 0, padding: 0,
          color: textColor, font: { size: 10.5 },
          callback: function (v) { return tickLabels[v / 48]; }
        },
        title: { display: true, text: 'Date (UTC)', color: textColor, font: { size: 10.5 }, padding: { top: 0, bottom: 0 } },
        afterFit: function (s) { s.height = 38; }
      },
      y: {
        position: 'left', min: -10, max: 35,
        grid: { display: false }, border: { display: false },
        ticks: { stepSize: 5, padding: 2, color: textColor, font: { size: 10.5 } },
        title: { display: true, text: '2m Temp. (°C)', color: textColor, font: { size: 10.5 }, padding: { top: 5, bottom: 0 } },
        afterFit: function (s) { s.width = 43; }
      },
      y2: {
        position: 'right', min: 0, max: 40,
        grid: { display: false }, border: { display: false },
        ticks: { stepSize: 10, padding: 0, color: textColor, font: { size: 10.5 } },
        afterFit: function (s) { s.width = 40; }
      }
    }
  },
  plugins: [decor]
});
</script>
</body>
</html>
